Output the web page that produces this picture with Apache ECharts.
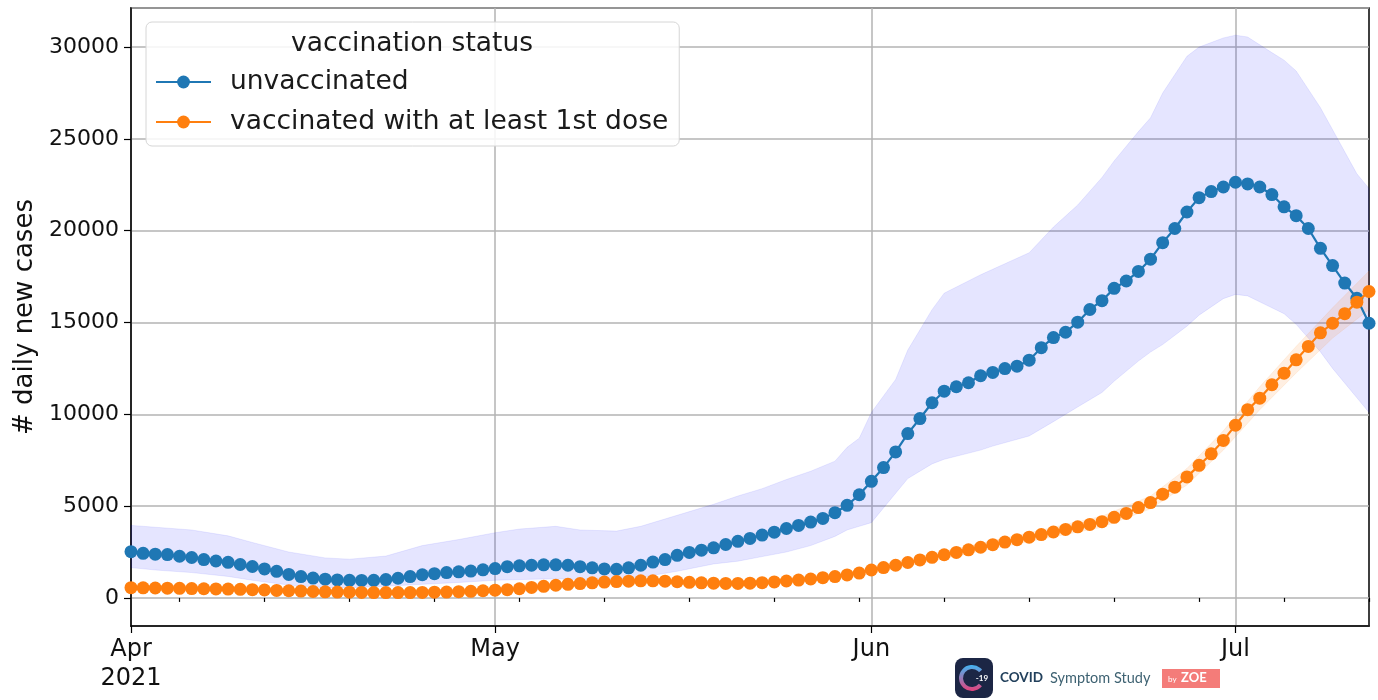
<!DOCTYPE html>
<html>
<head>
<meta charset="utf-8">
<title>daily new cases by vaccination status</title>
<script src="https://cdn.jsdelivr.net/npm/echarts@6/dist/echarts.min.js"></script>
<style>
  html, body { margin: 0; padding: 0; background: #fff; }
  #chart { width: 1378px; height: 700px; }
</style>
</head>
<body>
<div id="chart"></div>
<script>
  // one point per day, 1 Apr 2021 .. 12 Jul 2021
  var dayCount = 103;
  var monthLabels = {
    '2021-04-01': 'Apr\n2021',
    '2021-05-01': 'May',
    '2021-06-01': 'Jun',
    '2021-07-01': 'Jul'
  };

  var unvaccinated = [
    2520, 2430, 2380, 2360, 2270, 2200, 2090, 2010, 1940, 1820,
    1710, 1580, 1450, 1280, 1160, 1080, 1020, 980, 960, 950,
    960, 1000, 1070, 1160, 1260, 1320, 1380, 1420, 1460, 1530,
    1600, 1700, 1750, 1780, 1800, 1800, 1780, 1700, 1640, 1580,
    1560, 1640, 1780, 1950, 2090, 2320, 2480, 2600, 2730, 2910,
    3080, 3240, 3420, 3580, 3780, 3950, 4130, 4330, 4640, 5040,
    5620, 6350, 7100, 7950, 8950, 9770, 10630, 11260, 11500, 11720,
    12100, 12280, 12490, 12620, 12950, 13630, 14180, 14470, 15020, 15710,
    16190, 16860, 17260, 17780, 18450, 19350, 20120, 21020, 21800, 22130,
    22380, 22640, 22550, 22380, 21970, 21300, 20820, 20120, 19040, 18100,
    17150, 16320, 14960
  ];

  var vaccinated = [
    560, 550, 540, 530, 520, 510, 500, 490, 480, 470,
    450, 430, 410, 390, 370, 350, 330, 320, 310, 300,
    290, 290, 290, 290, 300, 310, 320, 340, 360, 390,
    420, 450, 500, 570, 630, 690, 740, 780, 820, 860,
    890, 910, 930, 930, 910, 880, 850, 820, 800, 790,
    790, 800, 830, 870, 920, 970, 1030, 1100, 1160, 1250,
    1350, 1520, 1650, 1780, 1930, 2070, 2210, 2350, 2480, 2620,
    2760, 2900, 3040, 3170, 3310, 3450, 3590, 3730, 3870, 4000,
    4150, 4390, 4600, 4920, 5190, 5650, 6030, 6590, 7220, 7850,
    8580, 9410, 10250, 10880, 11610, 12240, 12970, 13700, 14440, 14960,
    15480, 16110, 16690
  ];

  // uncertainty bands: [day index, lower, upper]
  var unvaccinatedBand = [
    [0, 1650, 3950], [2, 1520, 3850], [5, 1380, 3700], [8, 1170, 3380],
    [10, 960, 3020], [13, 700, 2500], [16, 560, 2180], [18, 550, 2110],
    [21, 640, 2280], [24, 740, 2850], [27, 840, 3180], [30, 960, 3550],
    [32, 1000, 3750], [35, 1040, 3900], [37, 1000, 3700], [40, 1040, 3640],
    [42, 1120, 3900], [45, 1450, 4500], [48, 1850, 5100], [50, 2000, 5550],
    [52, 2250, 5950], [54, 2500, 6450], [56, 2850, 6900], [58, 3350, 7450],
    [59, 3700, 8200], [60, 3900, 8700], [61, 4100, 10100], [63, 5700, 11900],
    [64, 6500, 13500], [66, 7300, 15700], [67, 7550, 16600], [70, 8050, 17600],
    [71, 8270, 17900], [74, 8820, 18800], [76, 9600, 20200], [78, 10400, 21400],
    [80, 11190, 22900], [81, 11800, 23800], [83, 12900, 25400], [84, 13390, 26150],
    [85, 13800, 27500], [87, 14800, 29500], [88, 15400, 30000], [90, 16300, 30500],
    [91, 16530, 30650], [92, 16450, 30550], [94, 15800, 29700], [95, 15480, 29290],
    [96, 14900, 28700], [98, 13400, 26700], [99, 12500, 25500], [101, 10900, 23100],
    [102, 10100, 22300]
  ];

  var vaccinatedBand = [
    [0, 430, 700], [10, 340, 560], [20, 200, 380], [30, 320, 520],
    [40, 780, 1000], [50, 690, 890], [55, 860, 1080], [60, 1200, 1500],
    [65, 1880, 2260], [70, 2550, 2970], [75, 3200, 3700], [80, 3850, 4450],
    [84, 4850, 5550], [87, 6150, 7050], [90, 8050, 9100], [93, 10250, 11500],
    [96, 12250, 13700], [99, 14150, 15800], [102, 15700, 17800]
  ];

  var days = [];
  for (var i = 0; i < dayCount; i++) {
    days.push(new Date(Date.UTC(2021, 3, 1 + i)).toISOString().slice(0, 10));
  }

  var font = 'DejaVu Sans';

  function isMonthStart(idx, val) {
    return !!monthLabels[val];
  }

  function isMonday(idx, val) {
    return new Date(val + 'T00:00:00Z').getUTCDay() === 1;
  }

  function bandSeries(band, fill, stroke) {
    return {
      type: 'custom',
      silent: true,
      z: 1,
      data: band,
      encode: {x: 0, y: [1, 2]},
      renderItem: function (params, api) {
        if (params.dataIndex !== 0) {
          return null;
        }
        var upper = band.map(function (p) { return api.coord([p[0], p[2]]); });
        var lower = band.map(function (p) { return api.coord([p[0], p[1]]); }).reverse();
        return {
          type: 'polygon',
          shape: {points: upper.concat(lower)},
          style: {fill: fill, stroke: stroke, lineWidth: 1}
        };
      }
    };
  }

  var chart = echarts.init(document.getElementById('chart'));

  chart.setOption({
    animation: false,
    backgroundColor: '#fff',
    grid: {
      left: 131,
      right: 9,
      top: 8,
      bottom: 74,
      show: true,
      borderColor: '#000',
      borderWidth: 1.5,
      containLabel: false,
      outerBoundsMode: 'none'
    },
    legend: {
      data: ['unvaccinated', 'vaccinated with at least 1st dose'],
      orient: 'vertical',
      left: 146,
      top: 22,
      padding: [46, 11, 10, 9],
      itemGap: 12,
      itemWidth: 55,
      itemHeight: 16,
      backgroundColor: 'rgba(255,255,255,0.85)',
      borderColor: '#d6d6d6',
      borderWidth: 1,
      borderRadius: 6,
      selectedMode: false,
      textStyle: {
        fontFamily: font,
        fontSize: 26.5,
        color: '#1a1a1a',
        lineHeight: 28,
        padding: [0, 0, 0, 14]
      }
    },
    graphic: [
      {
        type: 'text',
        x: 412,
        y: 44,
        z: 100,
        style: {
          text: 'vaccination status',
          fontFamily: font,
          fontSize: 26.5,
          fill: '#1a1a1a',
          align: 'center',
          verticalAlign: 'middle'
        }
      },
      // COVID Symptom Study logo
      {
        type: 'rect',
        shape: {x: 955, y: 658, width: 38, height: 40, r: 8},
        style: {fill: '#1c2645'}
      },
      {
        type: 'arc',
        shape: {cx: 972, cy: 678, r: 11, startAngle: 0.7, endAngle: 5.6},
        style: {
          fill: null,
          lineWidth: 4,
          stroke: new echarts.graphic.LinearGradient(0, 0, 0, 1, [
            {offset: 0, color: '#3fb6f5'},
            {offset: 1, color: '#e8407a'}
          ])
        }
      },
      {
        type: 'text',
        x: 982,
        y: 678,
        style: {text: '-19', fontFamily: 'Lato', fontSize: 8, fontWeight: 'bold', fill: '#fff', align: 'center', verticalAlign: 'middle'}
      },
      {
        type: 'text',
        x: 1000,
        y: 678,
        style: {text: 'COVID', fontFamily: 'Lato', fontSize: 13.5, fontWeight: 'bold', fill: '#22405c', verticalAlign: 'middle'}
      },
      {
        type: 'text',
        x: 1050,
        y: 678,
        style: {text: 'Symptom Study', fontFamily: 'Lato', fontSize: 14.5, fill: '#3e6272', verticalAlign: 'middle'}
      },
      {
        type: 'rect',
        shape: {x: 1162, y: 669, width: 58, height: 19},
        style: {fill: '#f47c79'}
      },
      {
        type: 'text',
        x: 1168,
        y: 679,
        style: {text: 'by', fontFamily: 'Lato', fontSize: 8, fill: '#fff', verticalAlign: 'middle'}
      },
      {
        type: 'text',
        x: 1181,
        y: 678,
        style: {text: 'ZOE', fontFamily: 'Lato', fontSize: 13, fontWeight: 'bold', fill: '#fff', verticalAlign: 'middle'}
      }
    ],
    xAxis: [
      {
        type: 'category',
        data: days,
        boundaryGap: false,
        axisLine: {show: true, onZero: false, lineStyle: {color: '#000', width: 1.5}},
        axisTick: {show: true, length: 7, interval: isMonthStart, lineStyle: {color: '#000', width: 1.2}},
        axisLabel: {
          interval: isMonthStart,
          formatter: function (v) { return monthLabels[v] || ''; },
          fontFamily: font,
          fontSize: 24,
          lineHeight: 29,
          color: '#111',
          margin: 9
        },
        splitLine: {show: true, interval: isMonthStart, lineStyle: {color: '#b3b3b3', width: 1.5}}
      },
      {
        type: 'category',
        data: days,
        boundaryGap: false,
        position: 'bottom',
        axisLine: {show: false},
        axisTick: {show: true, length: 4, interval: isMonday, lineStyle: {color: '#000', width: 1.2}},
        axisLabel: {show: false},
        splitLine: {show: false}
      }
    ],
    yAxis: {
      type: 'value',
      min: -1530,
      max: 32130,
      name: '# daily new cases',
      nameLocation: 'middle',
      nameGap: 91,
      nameTextStyle: {fontFamily: font, fontSize: 26, color: '#111'},
      axisLine: {show: true, lineStyle: {color: '#000', width: 1.5}},
      axisTick: {show: true, length: 7, lineStyle: {color: '#000', width: 1.2}},
      axisLabel: {
        fontFamily: font,
        fontSize: 22,
        color: '#111',
        margin: 12,
        showMinLabel: false,
        showMaxLabel: false,
        formatter: function (v) { return String(v); }
      },
      splitLine: {show: true, lineStyle: {color: '#b3b3b3', width: 1.5}}
    },
    series: [
      bandSeries(unvaccinatedBand, 'rgba(0,0,255,0.1)', 'rgba(0,0,255,0.08)'),
      bandSeries(vaccinatedBand, 'rgba(255,127,14,0.12)', 'rgba(255,127,14,0.1)'),
      {
        name: 'unvaccinated',
        type: 'line',
        data: unvaccinated,
        symbol: 'circle',
        symbolSize: 13,
        showAllSymbol: true,
        color: '#1f77b4',
        lineStyle: {color: '#1f77b4', width: 2.2},
        itemStyle: {color: '#1f77b4'},
        z: 3
      },
      {
        name: 'vaccinated with at least 1st dose',
        type: 'line',
        data: vaccinated,
        symbol: 'circle',
        symbolSize: 13,
        showAllSymbol: true,
        color: '#ff7f0e',
        lineStyle: {color: '#ff7f0e', width: 2.2},
        itemStyle: {color: '#ff7f0e'},
        z: 4
      }
    ]
  });
</script>
</body>
</html>
